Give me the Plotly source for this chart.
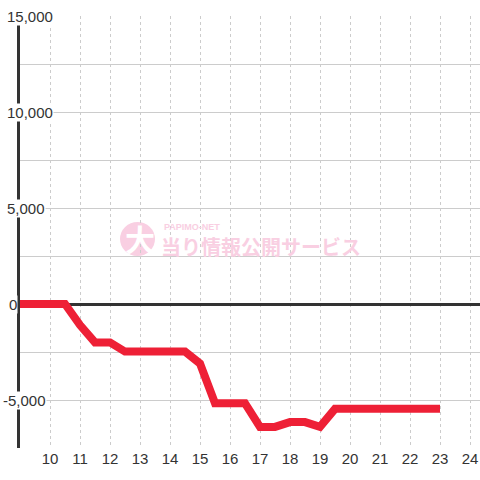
import plotly.graph_objects as go

# Data (hour of day -> cumulative balance)
hours = [9, 9.5, 10, 10.5, 11, 11.5, 12, 12.5, 13, 13.5, 14, 14.5, 15, 15.5, 16, 16.5,
         17, 17.5, 18, 18.5, 19, 19.5, 20, 20.5, 21, 21.5, 22, 22.5, 23]
balance = [0, 0, 0, 0, -1100, -2000, -2000, -2480, -2480, -2480, -2480, -2480, -3100, -5170,
           -5170, -5170, -6400, -6400, -6150, -6150, -6400, -5460, -5460, -5460, -5460, -5460,
           -5460, -5460, -5460]

x_ticks = list(range(10, 25))
y_grid = [-7500, -5000, -2500, 0, 2500, 5000, 7500, 10000, 12500, 15000]
y_label_vals = [15000, 10000, 5000, 0, -5000]
y_label_text = ["15,000", "10,000", "5,000", "0", "-5,000"]
y_label_shift = [-14, -14, -14, -12, -18]

TEXT = "#333333"
FONT = "Liberation Sans, Arial, sans-serif"
PINK = "#f9cfe2"

fig = go.Figure()
fig.add_trace(go.Scatter(
    x=hours, y=balance, mode="lines",
    line=dict(color="#ee2036", width=8),
    cliponaxis=False, hoverinfo="skip", showlegend=False,
))

annotations = []
for v, t, s in zip(y_label_vals, y_label_text, y_label_shift):
    annotations.append(dict(
        x=0, xref="paper", y=v, yref="y", text=t, showarrow=False,
        xanchor="left", yanchor="middle", xshift=s,
        font=dict(family=FONT, size=15, color=TEXT),
        bgcolor="white", borderpad=0,
    ))

# watermark (pixel offsets from the plot's left edge / vertical middle)
annotations.append(dict(
    x=0.0, xref="paper", y=0.5, yref="paper", text="<b>大</b>", showarrow=False,
    xanchor="center", yanchor="middle", xshift=120, yshift=-6,
    font=dict(family="Noto Sans CJK JP", size=30, color="white"),
))
annotations.append(dict(
    x=0.0, xref="paper", y=0.5, yref="paper", text="<b>PAPIMO-NET</b>", showarrow=False,
    xanchor="left", yanchor="middle", xshift=142, yshift=5,
    font=dict(family="Liberation Sans", size=9, color=PINK),
))
annotations.append(dict(
    x=0.0, xref="paper", y=0.5, yref="paper", text="<b>当り情報公開サービス</b>", showarrow=False,
    xanchor="left", yanchor="middle", xshift=139, yshift=-14,
    font=dict(family="Noto Sans CJK JP", size=20, color=PINK),
))

fig.update_layout(
    width=480, height=480,
    margin=dict(l=20, r=0, t=16, b=32, autoexpand=False),
    paper_bgcolor="white", plot_bgcolor="white",
    annotations=annotations,
    shapes=[dict(type="circle", xref="paper", yref="paper", layer="below",
                 x0=(120 - 20) / 460, x1=(155 - 20) / 460,
                 y0=(448 - 256) / 432, y1=(448 - 222) / 432,
                 fillcolor=PINK, line=dict(width=0))],
    xaxis=dict(
        range=[9, 24 + 1 / 3], tickvals=x_ticks, ticktext=[str(v) for v in x_ticks],
        showgrid=True, gridcolor="#cccccc", gridwidth=1, griddash="3px,3px",
        zeroline=False, showline=False, ticks="", automargin=False,
        tickfont=dict(family=FONT, size=15, color=TEXT), fixedrange=True,
    ),
    yaxis=dict(
        range=[-7500, 15000], tickvals=y_grid, showticklabels=False,
        showgrid=True, gridcolor="#cccccc", gridwidth=1,
        zeroline=True, zerolinecolor="#333333", zerolinewidth=3,
        showline=True, linecolor="#333333", linewidth=3, ticks="", automargin=False,
        layer="below traces", fixedrange=True,
    ),
)

fig.write_html(
    "out.html",
    config={"displayModeBar": False},
    post_script="document.body.style.margin='0';document.body.style.padding='0';document.body.style.overflow='hidden';",
)
